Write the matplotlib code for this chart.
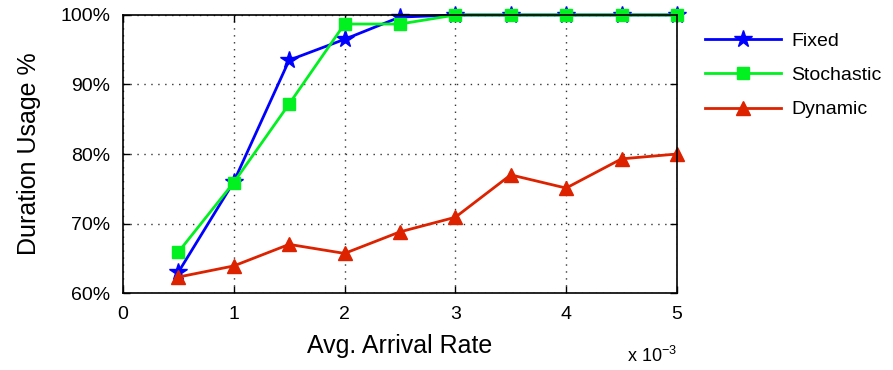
import numpy as np
import matplotlib.pyplot as plt
from matplotlib.ticker import FuncFormatter

plt.rcParams['font.family'] = ['Liberation Sans', 'DejaVu Sans']
plt.rcParams['mathtext.default'] = 'regular'

rate = [0.5, 1.0, 1.5, 2.0, 2.5, 3.0, 3.5, 4.0, 4.5, 5.0]
fixed = [63.0, 76.0, 93.5, 96.5, 99.7, 100, 100, 100, 100, 100]
stochastic = [65.9, 75.9, 87.2, 98.7, 98.7, 100, 100, 100, 100, 100]
dynamic = [62.3, 63.9, 67.0, 65.7, 68.8, 70.9, 77.0, 75.1, 79.3, 80.0]

fig = plt.figure(figsize=(8.93, 3.70), dpi=100)
ax = fig.add_axes([0.1377, 0.208, 0.6203, 0.7515])

ax.plot(rate, fixed, '-*', color='#0000ff', lw=2, ms=13, label='Fixed', clip_on=False)
ax.plot(rate, stochastic, '-s', color='#00f020', lw=2, ms=8, label='Stochastic', clip_on=False)
ax.plot(rate, dynamic, '-^', color='#dd2200', lw=2, ms=10, label='Dynamic', clip_on=False)

ax.set_xlim(0, 5)
ax.set_ylim(60, 100)
ax.set_xticks([0, 1, 2, 3, 4, 5])
ax.set_yticks([60, 70, 80, 90, 100])
ax.yaxis.set_major_formatter(FuncFormatter(lambda v, p: '%d%%' % v))
ax.tick_params(direction='in', top=True, right=True, labelsize=14, length=5, width=1, pad=9)
ax.grid(True, linestyle=(0, (1, 4)), color='#333333', lw=1)
for s in ax.spines.values():
    s.set_linewidth(1.2)

ax.set_xlabel('Avg. Arrival Rate', fontsize=18, labelpad=8)
ax.set_ylabel('Duration Usage %', fontsize=18, labelpad=14)
ax.text(1.0, -0.19, r'x 10$^{-3}$', transform=ax.transAxes, ha='right', va='top', fontsize=13)

ax.legend(loc='upper left', bbox_to_anchor=(1.02, 1.0), frameon=False, fontsize=14,
          handlelength=3.9, labelspacing=0.85, handletextpad=0.5)

fig.savefig('out.png', dpi=100)
